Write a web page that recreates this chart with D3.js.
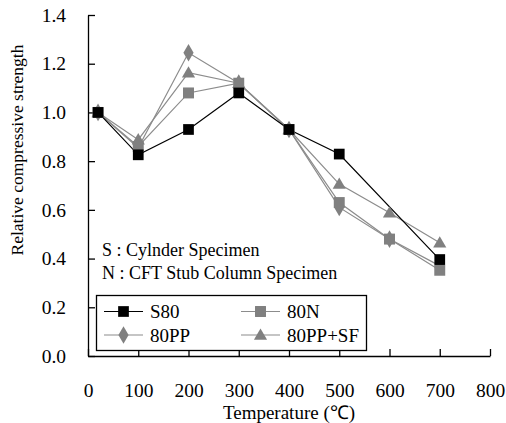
<!DOCTYPE html>
<html><head><meta charset="utf-8">
<script src="https://cdn.jsdelivr.net/npm/d3@7"></script>
<style>body{margin:0;background:#fff}svg{display:block}text{font-family:"Liberation Serif","Times New Roman",serif}</style>
</head><body>
<script>
const temps = [20, 100, 200, 300, 400, 500, 600, 700];
const s80 = [1.0, 0.826, 0.93, 1.08, 0.93, 0.829, null, 0.396];
const n80 = [1.0, 0.86, 1.08, 1.12, 0.93, 0.63, 0.48, 0.352];
const pp80 = [1.0, 0.855, 1.245, 1.12, 0.93, 0.61, 0.48, 0.37];
const ppsf80 = [1.0, 0.888, 1.163, 1.12, 0.93, 0.706, 0.588, 0.465];
const xTicks = [0, 100, 200, 300, 400, 500, 600, 700, 800];
const yTicks = [0.0, 0.2, 0.4, 0.6, 0.8, 1.0, 1.2, 1.4];
const seriesNames = ["S80", "80N", "80PP", "80PP+SF"];
const notes = ["S : Cylnder Specimen", "N : CFT Stub Column Specimen"];

const W = 506, H = 423;
const svg = d3.select("body").append("svg").attr("width", W).attr("height", H)
  .attr("font-family", "'Liberation Serif',serif");
const x = d3.scaleLinear().domain([0, 800]).range([88, 490]);
const y = d3.scaleLinear().domain([0, 1.4]).range([356, 15]);

const series = [
  {name: seriesNames[0], vals: s80, color: "#000", stroke: "#000", sym: d3.symbolSquare, size: 115},
  {name: seriesNames[1], vals: n80, color: "#808080", stroke: "#8c8c8c", sym: d3.symbolSquare, size: 120},
  {name: seriesNames[2], vals: pp80, color: "#808080", stroke: "#8c8c8c", sym: d3.symbolDiamond, size: 90},
  {name: seriesNames[3], vals: ppsf80, color: "#808080", stroke: "#8c8c8c", sym: d3.symbolTriangle, size: 75}
];

// axes
const xAxis = d3.axisBottom(x).tickValues(xTicks).tickSizeInner(-7).tickSizeOuter(0).tickPadding(27).tickFormat(d3.format("d"));
const gx = svg.append("g").attr("transform", `translate(0,${y(0)})`).call(xAxis);
const yAxis = d3.axisLeft(y).tickValues(yTicks).tickSizeInner(-7).tickSizeOuter(0).tickPadding(22).tickFormat(d3.format(".1f"));
const gy = svg.append("g").attr("transform", `translate(${x(0)},0)`).call(yAxis);
[gx, gy].forEach(g => {
  g.attr("font-family", "'Liberation Serif',serif");
  g.select(".domain").attr("stroke", "#000").attr("stroke-width", 1.3);
  g.selectAll(".tick line").attr("stroke", "#000").attr("stroke-width", 1.3);
  g.selectAll(".tick text").attr("font-size", 19.5).attr("fill", "#000");
});

const order = [1, 2, 3, 0];
order.forEach(i => {
  const s = series[i];
  const pts = temps.map((t, k) => [t, s.vals[k]]).filter(p => p[1] != null);
  svg.append("path").datum(pts)
    .attr("fill", "none").attr("stroke", s.stroke).attr("stroke-width", 1.2)
    .attr("d", d3.line().x(d => x(d[0])).y(d => y(d[1])));
});
order.forEach(i => {
  const s = series[i];
  const pts = temps.map((t, k) => [t, s.vals[k]]).filter(p => p[1] != null);
  svg.append("g").selectAll("path").data(pts).join("path")
    .attr("transform", d => `translate(${x(d[0])},${y(d[1]) + (s.sym === d3.symbolTriangle ? 1 : 0)})`)
    .attr("d", d3.symbol().type(s.sym).size(s.size))
    .attr("fill", s.color);
});

// notes
svg.append("text").attr("x", 102).attr("y", 256).attr("font-size", 18).text(notes[0]);
svg.append("text").attr("x", 102).attr("y", 279).attr("font-size", 18).text(notes[1]);

// legend
const lg = svg.append("g");
lg.append("rect").attr("x", 96.5).attr("y", 295.5).attr("width", 270).attr("height", 55).attr("fill", "#fff").attr("stroke", "#000").attr("stroke-width", 1.3);
const legPos = [[104, 311.5], [241, 311.5], [104, 335], [241, 335]];
series.forEach((s, i) => {
  const [lx, ly] = legPos[i];
  lg.append("line").attr("x1", lx).attr("x2", lx + 39).attr("y1", ly).attr("y2", ly).attr("stroke", s.stroke).attr("stroke-width", 1.2);
  lg.append("path").attr("transform", `translate(${lx + 19.5},${ly + (s.sym === d3.symbolTriangle ? 1 : 0)})`).attr("d", d3.symbol().type(s.sym).size(s.size)).attr("fill", s.color);
  lg.append("text").attr("x", lx + 46).attr("y", ly + 6.5).attr("font-size", 19).text(s.name);
});

// axis titles
svg.append("text").attr("x", (x(0) + x(800)) / 2).attr("y", 419).attr("text-anchor", "middle").attr("font-size", 19).text("Temperature (℃)");
svg.append("text").attr("transform", `translate(23,${150}) rotate(-90)`).attr("text-anchor", "middle").attr("font-size", 17.5).text("Relative compressive strength");
</script>
</body></html>
